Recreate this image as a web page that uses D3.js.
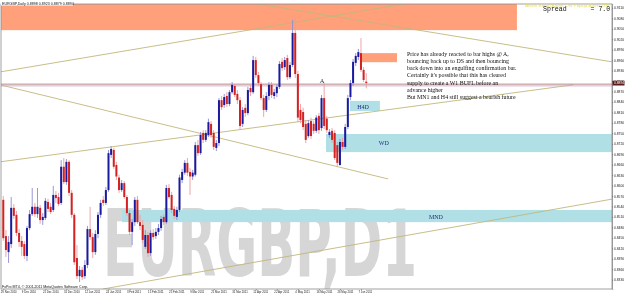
<!DOCTYPE html>
<html>
<head>
<meta charset="utf-8">
<script src="https://d3js.org/d3.v7.min.js"></script>
<style>
  body { margin: 0; background: #fff; }
  svg { display: block; }
</style>
</head>
<body>
<div id="chart"></div>
<script>
// daily EURGBP bars
const opens = [0.8559,0.8455,0.8409,0.8432,0.8536,0.8516,0.8464,0.8441,0.8432,0.8398,
  0.8478,0.8518,0.8539,0.8518,0.8536,0.8501,0.8507,0.8553,0.8539,0.8530,
  0.8573,0.8567,0.8550,0.8654,0.8610,0.8668,0.8579,0.8516,0.8392,0.8340,
  0.8358,0.8340,0.8372,0.8475,0.8452,0.8409,0.8461,0.8516,0.8559,0.8550,
  0.8587,0.8688,0.8702,0.8659,0.8623,0.8587,0.8607,0.8567,0.8521,0.8467,
  0.8495,0.8559,0.8495,0.8487,0.8424,0.8458,0.8406,0.8464,0.8455,0.8467,
  0.8478,0.8510,0.8495,0.8593,0.8573,0.8533,0.8510,0.8530,0.8616,0.8637,
  0.8665,0.8639,0.8626,0.8631,0.8716,0.8693,0.8751,0.8731,0.8745,0.8777,
  0.8751,0.8708,0.8722,0.8845,0.8831,0.8857,0.8834,0.8868,0.8886,0.8863,
  0.8845,0.8777,0.8823,0.8808,0.8880,0.8868,0.8960,0.8917,0.8891,0.8851,
  0.8817,0.8857,0.8889,0.8857,0.8865,0.8883,0.8955,0.8940,0.8966,0.8911,
  0.8946,0.9038,0.8920,0.8817,0.8811,0.8777,0.8742,0.8785,0.8777,0.8757,
  0.8800,0.8765,0.8851,0.8792,0.8745,0.8757,0.8751,0.8716,0.8659,0.8725,
  0.8711,0.8768,0.8854,0.8894,0.8952,0.8969,0.8980,0.8932,0.8898];
const highs = [0.8570,0.8472,0.8455,0.8567,0.8547,0.8527,0.8475,0.8455,0.8441,0.8484,
  0.8530,0.8593,0.8550,0.8593,0.8544,0.8521,0.8564,0.8562,0.8550,0.8599,
  0.8584,0.8579,0.8673,0.8679,0.8676,0.8673,0.8587,0.8521,0.8429,0.8369,
  0.8366,0.8386,0.8484,0.8539,0.8464,0.8472,0.8524,0.8559,0.8570,0.8596,
  0.8702,0.8713,0.8708,0.8668,0.8631,0.8616,0.8613,0.8573,0.8530,0.8504,
  0.8567,0.8570,0.8516,0.8501,0.8472,0.8467,0.8472,0.8475,0.8478,0.8490,
  0.8513,0.8518,0.8602,0.8604,0.8582,0.8541,0.8539,0.8631,0.8648,0.8673,
  0.8679,0.8650,0.8645,0.8725,0.8731,0.8754,0.8759,0.8759,0.8792,0.8785,
  0.8759,0.8731,0.8851,0.8857,0.8863,0.8868,0.8874,0.8897,0.8891,0.8874,
  0.8854,0.8825,0.8834,0.8883,0.8889,0.8972,0.8969,0.8926,0.8897,0.8860,
  0.8868,0.8897,0.8897,0.8877,0.8891,0.8957,0.8966,0.8969,0.8975,0.8955,
  0.9075,0.9089,0.8929,0.8834,0.8823,0.8788,0.8788,0.8795,0.8785,0.8802,
  0.8808,0.8860,0.8894,0.8800,0.8762,0.8765,0.8759,0.8725,0.8734,0.8737,
  0.8777,0.8860,0.8903,0.8963,0.8980,0.8992,0.9023,0.8940,0.8923];
const lows = [0.8441,0.8395,0.8378,0.8421,0.8504,0.8455,0.8424,0.8398,0.8389,0.8383,
  0.8472,0.8513,0.8510,0.8507,0.8490,0.8487,0.8501,0.8524,0.8518,0.8524,
  0.8550,0.8541,0.8544,0.8604,0.8602,0.8570,0.8507,0.8372,0.8332,0.8323,
  0.8329,0.8332,0.8363,0.8444,0.8392,0.8401,0.8449,0.8507,0.8541,0.8544,
  0.8582,0.8679,0.8648,0.8616,0.8579,0.8582,0.8562,0.8513,0.8458,0.8429,
  0.8484,0.8490,0.8472,0.8435,0.8418,0.8395,0.8398,0.8444,0.8447,0.8458,
  0.8470,0.8487,0.8490,0.8562,0.8521,0.8504,0.8501,0.8524,0.8607,0.8631,
  0.8627,0.8573,0.8616,0.8626,0.8685,0.8688,0.8722,0.8725,0.8739,0.8737,
  0.8702,0.8699,0.8713,0.8817,0.8823,0.8825,0.8828,0.8863,0.8854,0.8834,
  0.8762,0.8768,0.8797,0.8802,0.8857,0.8863,0.8909,0.8886,0.8845,0.8797,
  0.8811,0.8845,0.8851,0.8848,0.8854,0.8877,0.8929,0.8932,0.8903,0.8906,
  0.8940,0.8909,0.8782,0.8779,0.8759,0.8722,0.8737,0.8734,0.8748,0.8751,
  0.8748,0.8757,0.8762,0.8751,0.8737,0.8722,0.8673,0.8654,0.8657,0.8702,
  0.8705,0.8762,0.8845,0.8886,0.8943,0.8960,0.8926,0.8897,0.8879];
const closes = [0.8449,0.8415,0.8438,0.8536,0.8513,0.8464,0.8438,0.8424,0.8398,0.8478,
  0.8518,0.8539,0.8518,0.8539,0.8501,0.8510,0.8556,0.8533,0.8524,0.8573,
  0.8564,0.8547,0.8654,0.8610,0.8668,0.8579,0.8516,0.8380,0.8340,0.8358,
  0.8337,0.8372,0.8475,0.8452,0.8409,0.8461,0.8516,0.8550,0.8550,0.8587,
  0.8693,0.8705,0.8654,0.8626,0.8587,0.8607,0.8567,0.8521,0.8467,0.8495,
  0.8559,0.8495,0.8484,0.8444,0.8458,0.8406,0.8464,0.8452,0.8467,0.8478,
  0.8504,0.8495,0.8593,0.8567,0.8530,0.8513,0.8530,0.8623,0.8639,0.8665,
  0.8637,0.8626,0.8637,0.8716,0.8693,0.8745,0.8731,0.8751,0.8782,0.8745,
  0.8711,0.8722,0.8845,0.8825,0.8854,0.8834,0.8868,0.8889,0.8860,0.8845,
  0.8771,0.8817,0.8808,0.8874,0.8868,0.8960,0.8917,0.8894,0.8851,0.8817,
  0.8857,0.8889,0.8860,0.8868,0.8883,0.8949,0.8937,0.8960,0.8911,0.8946,
  0.9038,0.8920,0.8795,0.8788,0.8768,0.8731,0.8779,0.8742,0.8757,0.8795,
  0.8759,0.8851,0.8771,0.8759,0.8754,0.8731,0.8679,0.8665,0.8725,0.8711,
  0.8768,0.8851,0.8894,0.8955,0.8972,0.8983,0.8932,0.8903,0.8894];

const dateLabels = ["29 Nov 2010", "9 Dec 2010", "21 Dec 2010", "31 Dec 2010", "12 Jan 2011",
  "24 Jan 2011", "3 Feb 2011", "15 Feb 2011", "25 Feb 2011", "9 Mar 2011", "21 Mar 2011",
  "31 Mar 2011", "12 Apr 2011", "22 Apr 2011", "4 May 2011", "16 May 2011", "26 May 2011", "7 Jun 2011"];
const barsPerLabel = 8;

const priceTicks = [0.9110, 0.9080, 0.9050, 0.9020, 0.8990, 0.8960, 0.8930, 0.8900, 0.8870,
  0.8840, 0.8810, 0.8780, 0.8750, 0.8720, 0.8690, 0.8660, 0.8630, 0.8600, 0.8570, 0.8540,
  0.8510, 0.8480, 0.8450, 0.8420, 0.8390, 0.8360, 0.8330];
const lastPrice = 0.8894;
const hLinePrices = [0.8891, 0.8886];

// drawn objects: bar index range + price range
const zoneNames = ["supply", "ds", "h4d", "wd", "mnd"];
const zoneFrom = [-3, 135.6, 131.8, 122.7, 45.1];
const zoneTo = [195.3, 149.7, 143.2, 240, 240];
const zoneTop = [0.9135, 0.8980, 0.8843, 0.8748, 0.8530];
const zoneBottom = [0.9046, 0.8954, 0.8814, 0.8696, 0.8495];

// trend lines: [bar1, price1, bar2, price2]
const trendLines = [
  [-1.25, 0.8926, 154.6, 0.9124],
  [87.3, 0.9133, 231.4, 0.8955],
  [-1.25, 0.8889, 146.3, 0.8619],
  [37.9, 0.8303, 231.4, 0.8561],
  [-1.25, 0.8668, 216.6, 0.8889]
];

const labelTexts = ["H4D", "WD", "MND", "A"];
const labelBars = [136.8, 144.7, 164.5, 121.2];
const labelPrices = [0.8825, 0.8722, 0.8510, 0.8902];

const noteLines = [
  "Price has already reacted to bar highs @ A,",
  "bouncing back up to DS and then bouncing",
  "back down into an engulfing confirmation bar.",
  "Certainly it's possible that this has cleared",
  "supply to create a W1 BUFL before an",
  "advance higher",
  "But MN1 and H4 still suggest a bearish future"
];
const noteBar = 153.5;
const notePrice = 0.8972;

const zoneColors = { supply: "#ffa07a", ds: "#ffa07a", h4d: "#b0e0e6", wd: "#b0e0e6", mnd: "#b0e0e6" };

const W = 625, H = 296;
const plot = { left: 1, right: 612, top: 4, bottom: 289 };

const svg = d3.select("#chart").append("svg")
  .attr("width", W)
  .attr("height", H);

svg.append("rect").attr("width", W).attr("height", H).attr("fill", "#fff");

const xScale = d3.scaleLinear().domain([0, 231]).range([3.3, 3.3 + 231 * 2.63]);
const yScale = d3.scaleLinear().domain([0.83031, 0.91210]).range([plot.bottom, plot.top]);

svg.append("clipPath").attr("id", "plotclip")
  .append("rect")
  .attr("x", plot.left).attr("y", plot.top)
  .attr("width", plot.right - plot.left).attr("height", plot.bottom - plot.top);

const back = svg.append("g").style("isolation", "isolate");

// big symbol watermark (glyphs stay inside the plot, so no clip)
back.append("text")
  .attr("x", 103)
  .attr("y", 276)
  .attr("textLength", 314)
  .attr("lengthAdjust", "spacingAndGlyphs")
  .style("font-family", "'Liberation Sans Narrow', 'DejaVu Sans Condensed', 'Liberation Sans', sans-serif")
  .style("font-weight", "bold")
  .style("font-size", "92px")
  .style("fill", "#d6d6d6")
  .text("EURGBP,D1");

const g = back.append("g").attr("clip-path", "url(#plotclip)");

// zones
zoneNames.forEach((name, k) => {
  g.append("rect")
    .attr("x", xScale(zoneFrom[k]))
    .attr("width", xScale(zoneTo[k]) - xScale(zoneFrom[k]))
    .attr("y", yScale(zoneTop[k]))
    .attr("height", yScale(zoneBottom[k]) - yScale(zoneTop[k]))
    .attr("fill", zoneColors[name])
    .style("mix-blend-mode", "multiply");
});

// trend lines
g.selectAll(".trend")
  .data(trendLines)
  .join("line")
  .attr("class", "trend")
  .attr("x1", d => xScale(d[0]))
  .attr("y1", d => yScale(d[1]))
  .attr("x2", d => xScale(d[2]))
  .attr("y2", d => yScale(d[3]))
  .attr("stroke", "#c2b77c")
  .attr("stroke-width", 0.9);

// horizontal lines
g.selectAll(".hline")
  .data(hLinePrices)
  .join("line")
  .attr("class", "hline")
  .attr("x1", plot.left)
  .attr("x2", plot.right)
  .attr("y1", d => yScale(d))
  .attr("y2", d => yScale(d))
  .attr("stroke", (d, i) => i === 0 ? "#b07c7c" : "#c9a9c9")
  .attr("stroke-width", 0.9);

// candles
const bars = opens.map((o, i) => ({ i, o, h: highs[i], l: lows[i], c: closes[i] }));
const bullBody = "#1a1a9e", bearBody = "#d42222";
const bullWick = "#8c8cd2", bearWick = "#eb9c9c";

g.selectAll(".wick")
  .data(bars)
  .join("line")
  .attr("class", "wick")
  .attr("x1", d => xScale(d.i))
  .attr("x2", d => xScale(d.i))
  .attr("y1", d => yScale(d.h))
  .attr("y2", d => yScale(d.l))
  .attr("stroke", d => d.c >= d.o ? bullWick : bearWick)
  .attr("stroke-width", 0.9);

g.selectAll(".body")
  .data(bars)
  .join("rect")
  .attr("class", "body")
  .attr("x", d => xScale(d.i) - 1)
  .attr("width", 2)
  .attr("y", d => yScale(Math.max(d.o, d.c)))
  .attr("height", d => Math.max(0.8, Math.abs(yScale(d.o) - yScale(d.c))))
  .attr("fill", d => d.c >= d.o ? bullBody : bearBody);

// text objects
labelTexts.forEach((t, k) => {
  svg.append("text")
    .attr("x", xScale(labelBars[k]))
    .attr("y", yScale(labelPrices[k]))
    .attr("dy", "0.35em")
    .attr("text-anchor", "middle")
    .style("font-family", "'Liberation Serif', serif")
    .style("font-size", t === "A" ? "6.5px" : "6px")
    .style("fill", t === "A" ? "#333" : "#2a2a80")
    .text(t);
});

const note = svg.append("text")
  .attr("x", xScale(noteBar))
  .attr("y", yScale(notePrice))
  .style("font-family", "'Liberation Serif', serif")
  .style("font-size", "5.9px")
  .style("fill", "#111");
noteLines.forEach((line, k) => {
  note.append("tspan")
    .attr("x", xScale(noteBar))
    .attr("dy", k === 0 ? 0 : 7.15)
    .text(line);
});

// frame
svg.append("rect")
  .attr("x", plot.left).attr("y", plot.top)
  .attr("width", plot.right - plot.left).attr("height", plot.bottom - plot.top)
  .attr("fill", "none")
  .attr("stroke", "#8a8a8a")
  .attr("stroke-width", 0.8);

// price axis
const yAxis = svg.append("g")
  .attr("transform", `translate(${plot.right},0)`)
  .call(d3.axisRight(yScale)
    .tickValues(priceTicks)
    .tickSize(1.2)
    .tickPadding(0.8)
    .tickFormat(d3.format(".4f")));
yAxis.select(".domain").attr("stroke", "#8a8a8a").attr("stroke-width", 0.8);
yAxis.selectAll(".tick line").attr("stroke", "#555").attr("stroke-width", 0.5);
yAxis.selectAll("text")
  .style("font-family", "'Liberation Sans', sans-serif")
  .style("font-size", "3.3px")
  .style("fill", "#222");

// current price label
svg.append("rect")
  .attr("x", plot.right + 0.5)
  .attr("y", yScale(lastPrice) - 2.4)
  .attr("width", 12)
  .attr("height", 4.8)
  .attr("fill", "#5a1c1c");
svg.append("text")
  .attr("x", plot.right + 2)
  .attr("y", yScale(lastPrice))
  .attr("dy", "0.35em")
  .style("font-family", "'Liberation Sans', sans-serif")
  .style("font-size", "3.3px")
  .style("fill", "#fff")
  .text(d3.format(".4f")(lastPrice));

// date axis
const dateIdx = dateLabels.map((_, k) => k * barsPerLabel);
const xAxis = svg.append("g")
  .attr("transform", `translate(0,${plot.bottom})`)
  .call(d3.axisBottom(xScale)
    .tickValues(dateIdx)
    .tickSize(1.2)
    .tickPadding(0.8)
    .tickFormat((d, k) => dateLabels[k]));
xAxis.select(".domain").remove();
xAxis.selectAll(".tick line").attr("stroke", "#555").attr("stroke-width", 0.5);
xAxis.selectAll("text")
  .attr("text-anchor", "start")
  .attr("dx", -3)
  .style("font-family", "'Liberation Sans', sans-serif")
  .style("font-size", "2.8px")
  .style("fill", "#222");

// header and corner labels
svg.append("rect").attr("x", 1).attr("y", 0.5).attr("width", 72).attr("height", 5).attr("fill", "#fff");
svg.append("text")
  .attr("x", 2).attr("y", 4.6)
  .style("font-family", "'Liberation Sans', sans-serif")
  .style("font-size", "3.6px")
  .style("fill", "#111")
  .text("EURGBP,Daily  0.8898 0.8923 0.8879 0.8894");

svg.append("text")
  .attr("x", 2).attr("y", 288)
  .style("font-family", "'Liberation Sans', sans-serif")
  .style("font-size", "3.6px")
  .style("fill", "#111")
  .text("FxPro MT4, © 2001-2011 MetaQuotes Software Corp.");

svg.append("text")
  .attr("x", 525).attr("y", 6.5)
  .attr("textLength", 84)
  .attr("lengthAdjust", "spacingAndGlyphs")
  .style("font-family", "'Liberation Sans', sans-serif")
  .style("font-size", "3.8px")
  .style("fill", "#e6e05a")
  .text("Alerts   Email Alerts ON   Popup Alerts ON");

svg.append("text")
  .attr("x", 543).attr("y", 11)
  .style("white-space", "pre")
  .style("font-family", "'Liberation Mono', 'DejaVu Sans Mono', monospace")
  .style("font-size", "6.6px")
  .style("fill", "#111")
  .text("Spread      = 7.0");
</script>
</body>
</html>
